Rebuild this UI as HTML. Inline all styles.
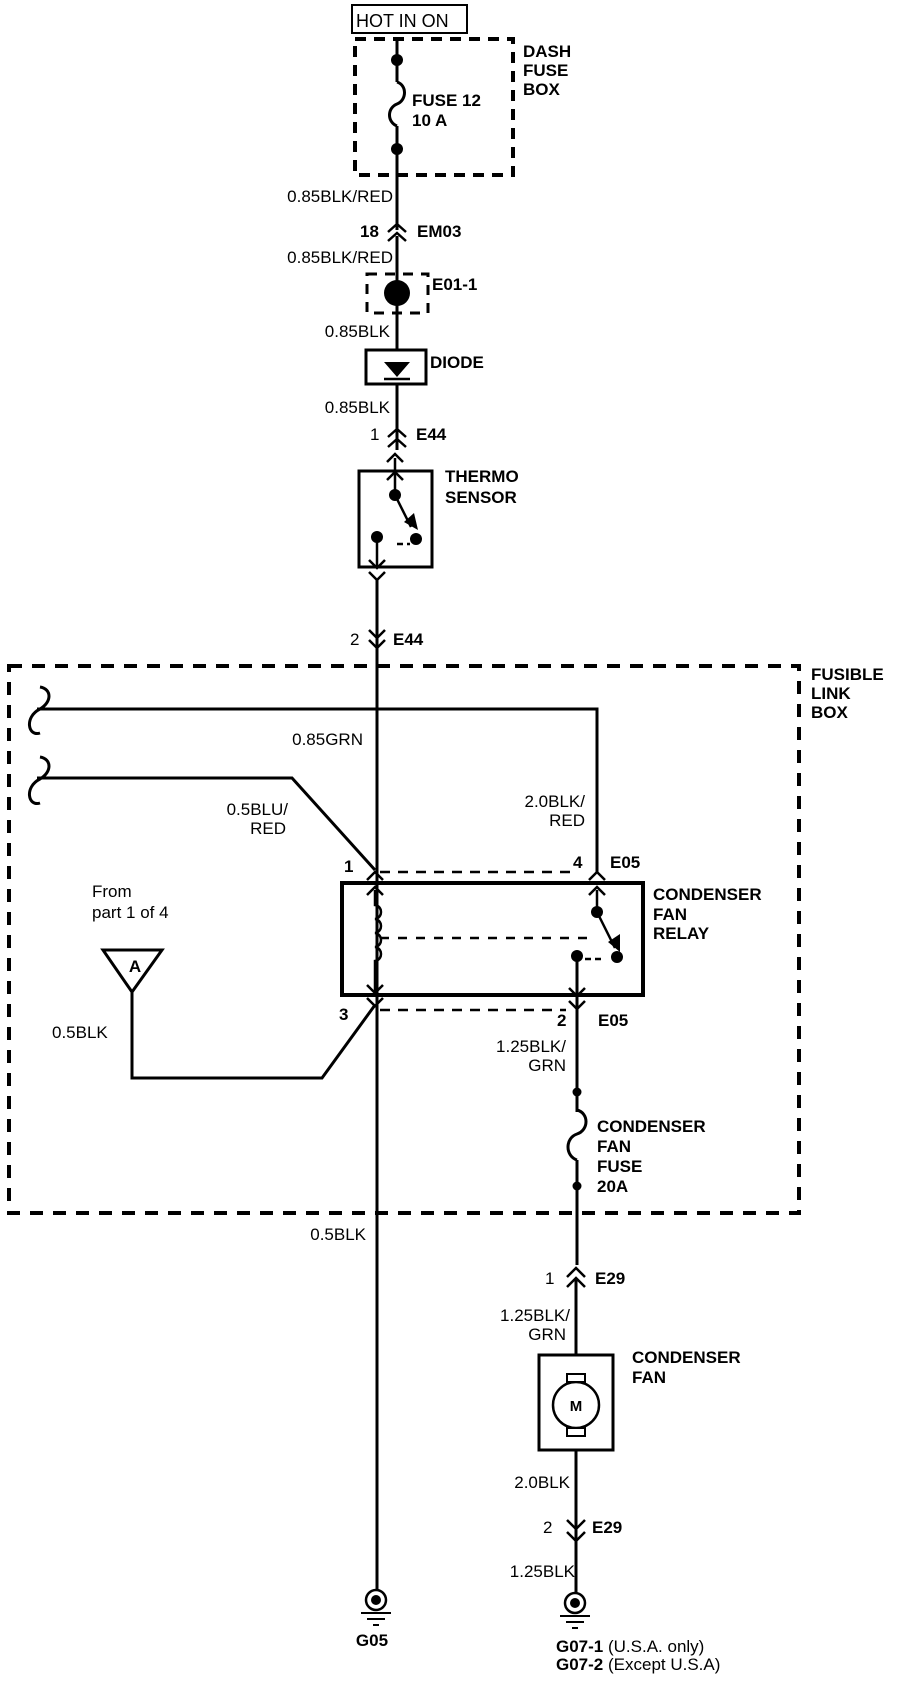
<!DOCTYPE html>
<html><head><meta charset="utf-8"><style>
html,body{margin:0;padding:0;background:#fff;}
svg{display:block}
text{font-family:"Liberation Sans",sans-serif;font-size:17px;fill:#000;font-weight:bold}
.r{font-weight:normal}
</style></head><body>
<svg width="912" height="1682" viewBox="0 0 912 1682" xmlns="http://www.w3.org/2000/svg">
<g fill="none" stroke="#000" stroke-width="3">
<rect x="352" y="5" width="115" height="28" stroke-width="2"/>
<rect x="355" y="39" width="158" height="136" stroke-dasharray="11,8" stroke-width="4"/>
<path d="M397 39V82 M397 126V230"/>
<path d="M397 82c10 3 10 18 0 22c-10 4-10 18 0 22"/>
<path d="M388 232l9-8 9 8 M388 241l9-8 9 8" stroke-width="2.5"/>
<path d="M397 236V350"/>
<rect x="367" y="274" width="61" height="39" stroke-dasharray="10,8" stroke-width="3"/>
<rect x="366" y="350" width="60" height="34"/>
<path d="M397 384V450"/>
<path d="M388 437l9-8 9 8 M388 447l9-8 9 8" stroke-width="2.5"/>
<path d="M387 462l8-8 8 8 M387 480l8-8 8 8" stroke-width="2.5"/>
<rect x="359" y="471" width="73" height="96"/>
<path d="M395 458V495 M395 495L411 527" stroke-width="2.5"/>
<path d="M397 544H410" stroke-dasharray="6,4" stroke-width="2.5"/>
<path d="M377 537V567 M369 560l8 8 8-8 M369 572l8 8 8-8" stroke-width="2.5"/>
<path d="M377 580V1590"/>
<path d="M369 630l8 8 8-8 M369 640l8 8 8-8" stroke-width="2.5"/>
<rect x="9" y="666" width="790" height="547" stroke-dasharray="13,10" stroke-width="4"/>
<path d="M37 709H597V873 M37 778H292L375 870" stroke-width="3"/>
<path d="M40 687c12 2 12 15 0 22c-16 8-12 28 0 24 M40 757c12 2 12 15 0 22c-16 8-12 28 0 24" stroke-width="3"/>
<path d="M380 872H572 M380 1010H566" stroke-dasharray="10,8" stroke-width="2.5"/>
<rect x="342" y="883" width="301" height="112" stroke-width="4"/>
<path d="M367 880l8-8 8 8 M367 895l8-8 8 8 M589 880l8-8 8 8 M589 895l8-8 8 8" stroke-width="2.5"/>
<path d="M375 890V905c8 1 8 13 0 14c8 1 8 13 0 14c8 1 8 13 0 14c8 1 8 13 0 14V995" stroke-width="2.5"/>
<path d="M367 985l8 8 8-8 M367 998l8 8 8-8" stroke-width="2.5"/>
<path d="M380 938H590" stroke-dasharray="9,9" stroke-width="2.5"/>
<path d="M597 890V912L615 948" stroke-width="2.5"/>
<path d="M585 959H604" stroke-dasharray="6,4" stroke-width="2.5"/>
<path d="M577 956V1112 M577 1160V1265" stroke-width="3"/>
<path d="M569 988l8 8 8-8 M569 1001l8 8 8-8" stroke-width="2.5"/>
<path d="M132 992V1078H322L375 1005" stroke-width="3"/>
<path d="M103 950H162L132 992Z" stroke-width="3"/>
<path d="M577 1110c12 3 12 20 0 24c-12 4-12 22 0 26" stroke-width="3"/>
<path d="M567 1277l9-9 9 9 M567 1287l9-9 9 9" stroke-width="2.5"/>
<path d="M576 1280V1593"/>
<rect x="539" y="1355" width="74" height="95" fill="#fff"/>
<circle cx="576" cy="1405" r="23" fill="#fff" stroke-width="2.5"/>
<rect x="567" y="1374" width="18" height="8" fill="#fff" stroke-width="2"/>
<rect x="567" y="1428" width="18" height="8" fill="#fff" stroke-width="2"/>
<path d="M567 1520l9 9 9-9 M567 1532l9 9 9-9" stroke-width="2.5"/>
<circle cx="376" cy="1600" r="10" stroke-width="2.5"/>
<path d="M361 1613H391 M367 1619H385 M373 1625H379" stroke-width="2"/>
<circle cx="575" cy="1603" r="10" stroke-width="2.5"/>
<path d="M560 1616H590 M566 1622H584 M572 1628H578" stroke-width="2"/>
</g>
<g fill="#000">
<circle cx="397" cy="60" r="6"/><circle cx="397" cy="149" r="6"/>
<circle cx="397" cy="293" r="13"/>
<path d="M384 362H410L397 377Z"/><path d="M384 379H410" stroke="#000" stroke-width="2.5"/>
<circle cx="395" cy="495" r="6"/><circle cx="377" cy="537" r="6"/><circle cx="416" cy="539" r="6"/>
<path d="M404 522L418 530L414 513Z"/>
<circle cx="597" cy="912" r="6"/><circle cx="617" cy="957" r="6"/><circle cx="577" cy="956" r="6"/>
<path d="M608 942L620 952L620 934Z"/>
<circle cx="577" cy="1092" r="4.5"/><circle cx="577" cy="1186" r="4.5"/>
<circle cx="376" cy="1600" r="5"/><circle cx="575" cy="1603" r="5"/>
</g>
<text class="r" x="356" y="27" style="font-size:18px">HOT IN ON</text>
<text x="523" y="57">DASH</text><text x="523" y="76">FUSE</text><text x="523" y="95">BOX</text>
<text x="412" y="106">FUSE 12</text><text x="412" y="126">10 A</text>
<text class="r" x="393" y="202" text-anchor="end">0.85BLK/RED</text>
<text x="360" y="237">18</text><text x="417" y="237">EM03</text>
<text class="r" x="393" y="263" text-anchor="end">0.85BLK/RED</text>
<text x="432" y="290">E01-1</text>
<text class="r" x="390" y="337" text-anchor="end">0.85BLK</text>
<text x="430" y="368">DIODE</text>
<text class="r" x="390" y="413" text-anchor="end">0.85BLK</text>
<text class="r" x="370" y="440">1</text><text x="416" y="440">E44</text>
<text x="445" y="482">THERMO</text><text x="445" y="503">SENSOR</text>
<text class="r" x="350" y="645">2</text><text x="393" y="645">E44</text>
<text x="811" y="680">FUSIBLE</text><text x="811" y="699">LINK</text><text x="811" y="718">BOX</text>
<text class="r" x="363" y="745" text-anchor="end">0.85GRN</text>
<text class="r" x="288" y="815" text-anchor="end">0.5BLU/</text><text class="r" x="286" y="834" text-anchor="end">RED</text>
<text class="r" x="585" y="807" text-anchor="end">2.0BLK/</text><text class="r" x="585" y="826" text-anchor="end">RED</text>
<text x="344" y="872">1</text><text x="573" y="868">4</text><text x="610" y="868">E05</text>
<text x="653" y="900">CONDENSER</text><text x="653" y="920">FAN</text><text x="653" y="939">RELAY</text>
<text class="r" x="92" y="897">From</text><text class="r" x="92" y="918">part 1 of 4</text>
<text x="135" y="972" text-anchor="middle">A</text>
<text x="339" y="1020">3</text>
<text class="r" x="52" y="1038">0.5BLK</text>
<text x="557" y="1026">2</text><text x="598" y="1026">E05</text>
<text class="r" x="566" y="1052" text-anchor="end">1.25BLK/</text><text class="r" x="566" y="1071" text-anchor="end">GRN</text>
<text x="597" y="1132">CONDENSER</text><text x="597" y="1152">FAN</text><text x="597" y="1172">FUSE</text><text x="597" y="1192">20A</text>
<text class="r" x="366" y="1240" text-anchor="end">0.5BLK</text>
<text class="r" x="545" y="1284">1</text><text x="595" y="1284">E29</text>
<text class="r" x="570" y="1321" text-anchor="end">1.25BLK/</text><text class="r" x="566" y="1340" text-anchor="end">GRN</text>
<text x="632" y="1363">CONDENSER</text><text x="632" y="1383">FAN</text>
<text x="576" y="1411" text-anchor="middle" style="font-size:15px">M</text>
<text class="r" x="570" y="1488" text-anchor="end">2.0BLK</text>
<text class="r" x="543" y="1533">2</text><text x="592" y="1533">E29</text>
<text class="r" x="575" y="1577" text-anchor="end">1.25BLK</text>
<text x="372" y="1646" text-anchor="middle">G05</text>
<text x="556" y="1652">G07-1 <tspan style="font-weight:normal">(U.S.A. only)</tspan></text>
<text x="556" y="1670">G07-2 <tspan style="font-weight:normal">(Except U.S.A)</tspan></text>
</svg>
</body></html>
